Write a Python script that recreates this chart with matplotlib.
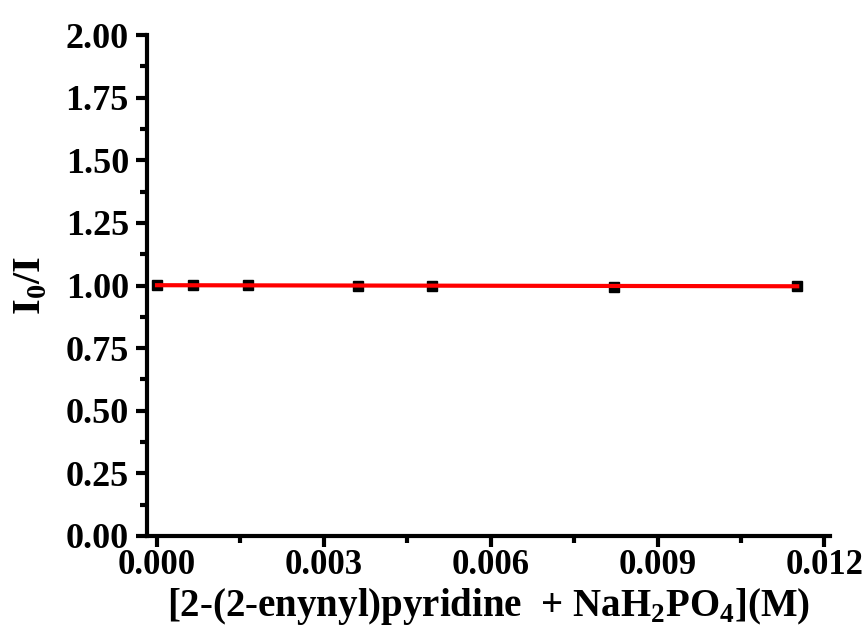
import matplotlib
matplotlib.use("Agg")
import matplotlib.pyplot as plt
import numpy as np
from matplotlib.ticker import MultipleLocator, FormatStrFormatter

conc = [0.0, 0.00065, 0.00164, 0.00362, 0.00495, 0.00822, 0.01151]
ratio = [1.002, 1.002, 1.002, 0.997, 0.999, 0.995, 1.0]

plt.rcParams['font.family'] = ['Liberation Serif', 'DejaVu Serif']
plt.rcParams['font.weight'] = 'bold'
plt.rcParams['mathtext.fontset'] = 'custom'
plt.rcParams['mathtext.rm'] = 'Liberation Serif:bold'
plt.rcParams['mathtext.bf'] = 'Liberation Serif:bold'

fig = plt.figure(figsize=(8.63, 6.34), dpi=100)
ax = fig.add_axes([147/863, 1-536/634, (830-147)/863, (536-35)/634])

ax.plot(conc, ratio, 's', color='black', markersize=7.5, zorder=3)
coef = np.polyfit(conc, ratio, 1)
xf = np.array([conc[0], conc[-1]])
ax.plot(xf, np.polyval(coef, xf), color='red', lw=3, zorder=4)

ax.set_xlim(-0.00018, 0.0121)
ax.set_ylim(0, 2.0)
ax.xaxis.set_major_locator(MultipleLocator(0.003))
ax.xaxis.set_minor_locator(MultipleLocator(0.0015))
ax.yaxis.set_major_locator(MultipleLocator(0.25))
ax.yaxis.set_minor_locator(MultipleLocator(0.125))
ax.xaxis.set_major_formatter(FormatStrFormatter('%.3f'))
ax.yaxis.set_major_formatter(FormatStrFormatter('%.2f'))

for s in ['top', 'right']:
    ax.spines[s].set_visible(False)
for s in ['left', 'bottom']:
    ax.spines[s].set_linewidth(3)
ax.tick_params(which='major', direction='out', length=8, width=3, labelsize=25)
ax.tick_params(axis='x', which='major', pad=1)
ax.tick_params(axis='y', which='major', pad=5, labelsize=26)
ax.tick_params(which='minor', direction='out', length=5, width=3)
for lab in ax.get_xticklabels() + ax.get_yticklabels():
    lab.set_fontweight('bold')

ax.set_xlabel(r'[2-(2-enynyl)pyridine  + NaH$_2$PO$_4$](M)', fontsize=28, fontweight='bold', labelpad=3)
ax.set_ylabel(r'I$_0$/I', fontsize=29, fontweight='bold', labelpad=12)

fig.savefig('out.png', dpi=100)
